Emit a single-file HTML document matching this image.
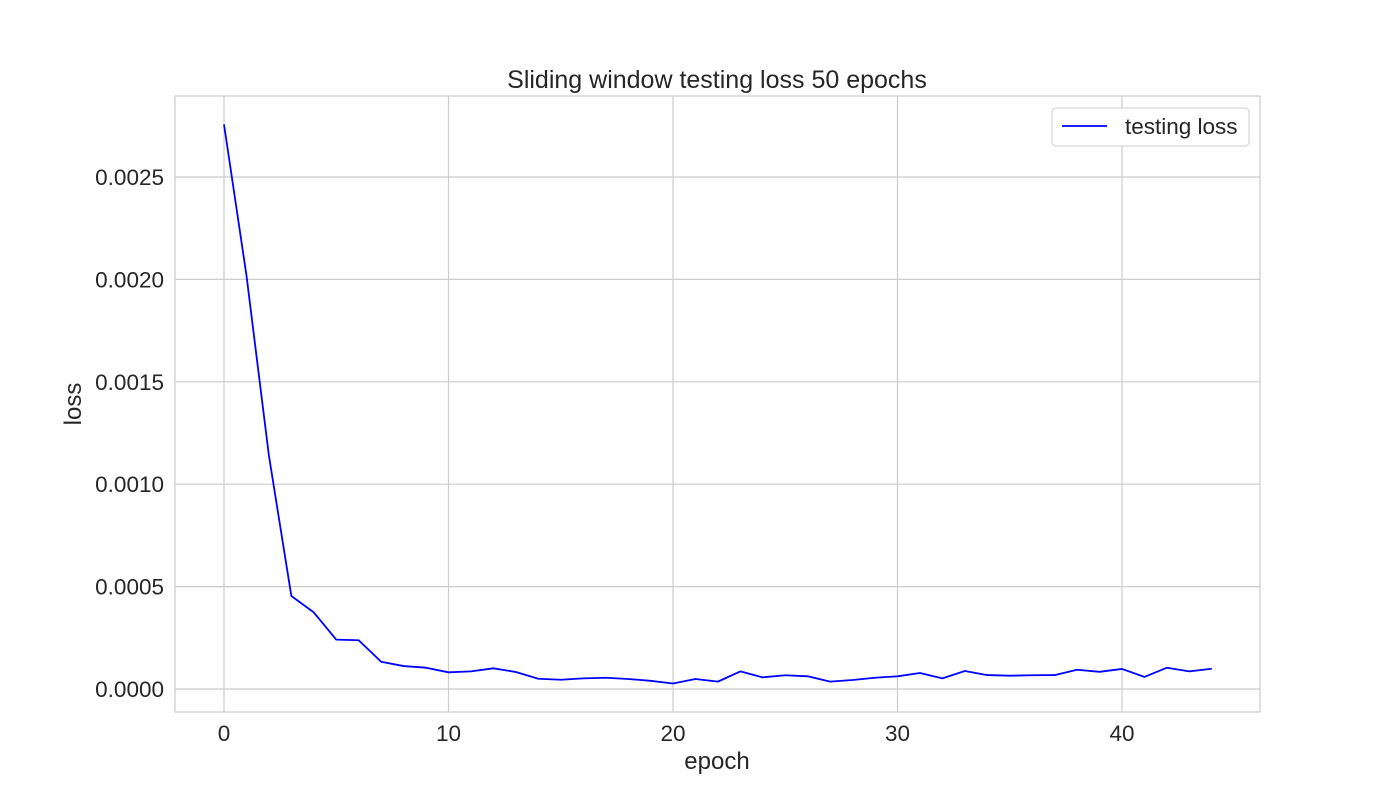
<!DOCTYPE html>
<html><head><meta charset="utf-8"><style>
body{margin:0;background:#fff;font-family:"Liberation Sans",Arial,sans-serif}
svg text{font-family:"Liberation Sans",Arial,sans-serif;fill:#262626}
</style></head><body>
<svg id="chart" width="1400" height="800" xmlns="http://www.w3.org/2000/svg">
<rect width="1400" height="800" fill="#fff"/>
<g id="grid"></g>
<rect x="175" y="96" width="1085" height="616" fill="none" stroke="#cccccc" stroke-width="1.2"/>
<g id="ticks"></g>
<polyline id="line" fill="none" stroke="#0000ff" stroke-width="1.8" stroke-linejoin="round"/>
<text x="717" y="88" font-size="25" text-anchor="middle">Sliding window testing loss 50 epochs</text>
<text x="717" y="769" font-size="24" text-anchor="middle">epoch</text>
<text transform="translate(81,404) rotate(-90)" font-size="24" text-anchor="middle">loss</text>
<g>
<rect x="1052" y="108" width="197" height="38" rx="4" fill="#fff" stroke="#cccccc"/>
<line x1="1062" y1="126" x2="1107" y2="126" stroke="#0000ff" stroke-width="1.8"/>
<text x="1125" y="134" font-size="22.5">testing loss</text>
</g>
</svg>
<script>
const losses=[0.002757,0.00202,0.00114,0.000454,0.000374,0.000241,0.000238,0.000133,0.000112,0.000104,0.0000815,0.000086,0.000101,0.000083,0.00005,0.000045,0.000052,0.000055,0.000049,0.00004,0.000027,0.000049,0.000036,0.000086,0.000057,0.000067,0.000062,0.000036,0.000044,0.000055,0.000062,0.000078,0.000052,0.000088,0.000068,0.000065,0.000067,0.000068,0.000094,0.000084,0.000098,0.000059,0.000104,0.000086,0.000099];
const xTicks=[0,10,20,30,40];
const yTicks=[0,0.0005,0.001,0.0015,0.002,0.0025];
const yTickLabels=["0.0000","0.0005","0.0010","0.0015","0.0020","0.0025"];
const NS="http://www.w3.org/2000/svg";
function X(v){return 224+v*22.45;}
function Y(v){return 689-v*204800;}
const grid=document.getElementById('grid'),ticks=document.getElementById('ticks');
xTicks.forEach(t=>{
 const l=document.createElementNS(NS,'line');
 
 
 l.setAttribute('x1',X(t));l.setAttribute('x2',X(t));l.setAttribute('y1',96);l.setAttribute('y2',712);
 l.setAttribute('stroke','#cccccc');l.setAttribute('stroke-width','1.2');grid.appendChild(l);
 const tx=document.createElementNS(NS,'text');
 
 
 tx.setAttribute('x',X(t));tx.setAttribute('y',741);tx.setAttribute('font-size','22.5');tx.setAttribute('text-anchor','middle');
 tx.textContent=t;ticks.appendChild(tx);
});
yTicks.forEach((t,i)=>{
 const l=document.createElementNS(NS,'line');
 
 
 l.setAttribute('x1',175);l.setAttribute('x2',1260);l.setAttribute('y1',Y(t));l.setAttribute('y2',Y(t));
 l.setAttribute('stroke','#cccccc');l.setAttribute('stroke-width','1.2');grid.appendChild(l);
 const tx=document.createElementNS(NS,'text');
 
 
 tx.setAttribute('x',164);tx.setAttribute('y',Y(t)+8);tx.setAttribute('font-size','22.5');tx.setAttribute('text-anchor','end');
 tx.textContent=yTickLabels[i];ticks.appendChild(tx);
});
document.getElementById('line').setAttribute('points',losses.map((v,i)=>X(i)+','+Y(v)).join(' '));
</script>
</body></html>
